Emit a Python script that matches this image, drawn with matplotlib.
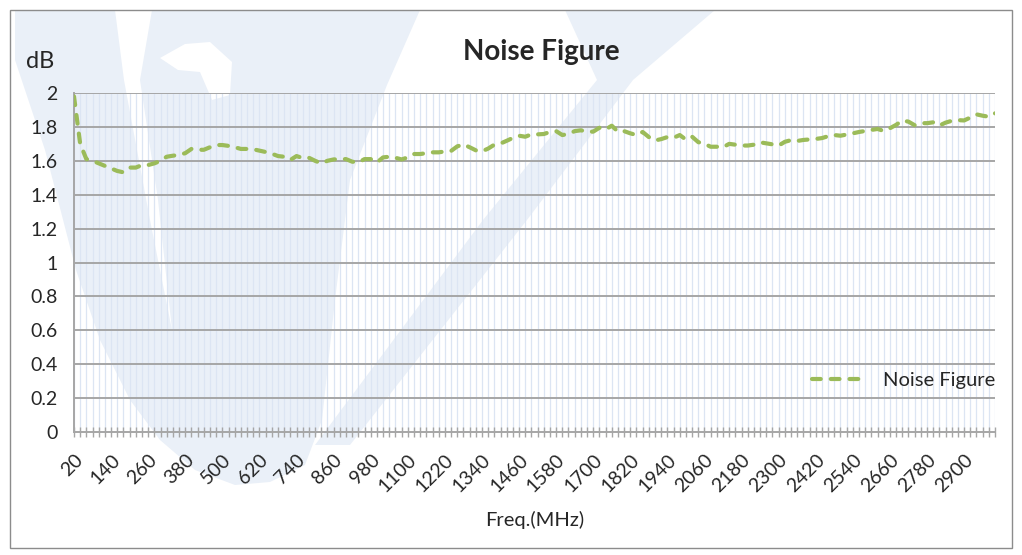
import matplotlib
matplotlib.use("Agg")
import matplotlib.pyplot as plt
from matplotlib.patches import Rectangle, Polygon

freq_mhz = list(range(20, 3001, 20))
noise_figure = [
    1.98, 1.70, 1.61, 1.60, 1.585, 1.57, 1.555, 1.54, 1.532, 1.56,
    1.56, 1.575, 1.575, 1.585, 1.60, 1.624, 1.63, 1.635, 1.645, 1.67,
    1.665, 1.665, 1.68, 1.693, 1.693, 1.688, 1.68, 1.67, 1.67, 1.668,
    1.66, 1.652, 1.642, 1.628, 1.624, 1.605, 1.628, 1.616, 1.618, 1.60,
    1.585, 1.60, 1.608, 1.61, 1.61, 1.595, 1.59, 1.61, 1.61, 1.59,
    1.62, 1.624, 1.618, 1.608, 1.62, 1.64, 1.64, 1.645, 1.65, 1.65,
    1.655, 1.658, 1.685, 1.697, 1.68, 1.662, 1.656, 1.672, 1.695, 1.702,
    1.718, 1.735, 1.748, 1.742, 1.756, 1.756, 1.758, 1.77, 1.775, 1.752,
    1.758, 1.775, 1.78, 1.772, 1.772, 1.795, 1.785, 1.807, 1.772, 1.775,
    1.762, 1.752, 1.77, 1.74, 1.72, 1.728, 1.74, 1.736, 1.752, 1.725,
    1.742, 1.71, 1.70, 1.683, 1.683, 1.68, 1.70, 1.695, 1.69, 1.69,
    1.695, 1.709, 1.703, 1.697, 1.69, 1.712, 1.722, 1.717, 1.723, 1.726,
    1.729, 1.734, 1.745, 1.752, 1.748, 1.755, 1.762, 1.77, 1.776, 1.782,
    1.788, 1.776, 1.792, 1.812, 1.838, 1.831, 1.81, 1.822, 1.822, 1.827,
    1.808, 1.825, 1.836, 1.84, 1.838, 1.855, 1.874, 1.866, 1.86, 1.88,
]
y_ticks = [0, 0.2, 0.4, 0.6, 0.8, 1, 1.2, 1.4, 1.6, 1.8, 2]
label_every = 6

plt.rcParams["font.family"] = ["Lato", "DejaVu Sans"]
GRID_GRAY = "#A6A6A6"
GRID_BLUE = "#DCE5F3"
LINE_GREEN = "#9BBB59"
TEXT = "#262626"
WATERMARK = "#EAF0F8"

W, H = 1022, 555
fig = plt.figure(figsize=(W / 100, H / 100), dpi=100)
fig.patch.set_facecolor("white")

# faint logo watermark behind the chart (rough outline, pixel space, y down)
bg = fig.add_axes([0, 0, 1, 1], zorder=-5)
bg.set_xlim(0, W)
bg.set_ylim(H, 0)
bg.axis("off")
logo_body = [(15, 10), (420, 10), (387, 85), (350, 180), (335, 300),
             (322, 420), (305, 465), (270, 482), (235, 485), (195, 470),
             (160, 440), (130, 400), (100, 340), (76, 270), (45, 150),
             (15, 60)]
logo_gap = [(115, 10), (152, 10), (140, 80), (158, 200), (172, 330),
            (150, 220), (124, 80)]
logo_notch = [(160, 58), (185, 44), (210, 42), (232, 62), (230, 95),
              (212, 100), (200, 72), (178, 70)]
logo_arm = [(565, 10), (715, 10), (633, 80), (527, 220), (350, 445),
            (315, 445), (483, 220), (597, 80)]
for pts, col in ((logo_body, WATERMARK), (logo_gap, "white"),
                 (logo_notch, "white"), (logo_arm, WATERMARK)):
    bg.add_patch(Polygon(pts, closed=True, facecolor=col, edgecolor="none"))

# chart-area border
fig.add_artist(Rectangle((10 / W, 1 - 548 / H), 1002 / W, 538 / H,
                         transform=fig.transFigure, fill=False,
                         edgecolor="#8C8C8C", lw=1.0))

ax = fig.add_axes([74 / W, 1 - 432 / H, 921 / W, 339 / H])
ax.set_facecolor("none")
n = len(freq_mhz)
x = list(range(n))

for i in x:
    ax.axvline(i, color=GRID_BLUE, lw=0.9, zorder=0)
for v in y_ticks[1:]:
    ax.axhline(v, color=GRID_GRAY, lw=1.4, zorder=1)

ax.plot(x, noise_figure, color=LINE_GREEN, lw=3.0, ls=(0, (2.1, 2.4)),
        dash_capstyle="round", label="Noise Figure", zorder=3)

ax.set_xlim(0, n - 1)
ax.set_ylim(0, 2)
ax.set_yticks(y_ticks)
ax.set_yticklabels([f"{v:g}" for v in y_ticks])
ax.tick_params(axis="y", length=0, pad=12, labelsize=14, labelcolor=TEXT)

ax.set_xticks(x[::label_every])
ax.set_xticklabels([str(f) for f in freq_mhz[::label_every]], rotation=45,
                   ha="right", rotation_mode="anchor")
ax.set_xticks(x, minor=True)
ax.tick_params(axis="x", which="both", direction="inout", length=7,
               color=GRID_GRAY, width=1.0, pad=10, labelsize=14,
               labelcolor=TEXT)

for side in ("top", "right"):
    ax.spines[side].set_visible(False)
for side in ("left", "bottom"):
    ax.spines[side].set_color(GRID_GRAY)
    ax.spines[side].set_linewidth(1.4)

leg = ax.legend(loc="center right", bbox_to_anchor=(1.0, 0.153),
                frameon=False, borderaxespad=0, borderpad=0,
                handlelength=2.6, handletextpad=0.9, fontsize=14.5)
for t in leg.get_texts():
    t.set_color(TEXT)

fig.text(541 / W, 1 - 52 / H, "Noise Figure", ha="center", va="center",
         fontsize=20, fontweight="bold", color=TEXT)
fig.text(40 / W, 1 - 61 / H, "dB", ha="center", va="center",
         fontsize=17, color=TEXT)
fig.text(535 / W, 1 - 520 / H, "Freq.(MHz)", ha="center", va="center",
         fontsize=14.5, color=TEXT)

fig.savefig("out.png", dpi=100)
